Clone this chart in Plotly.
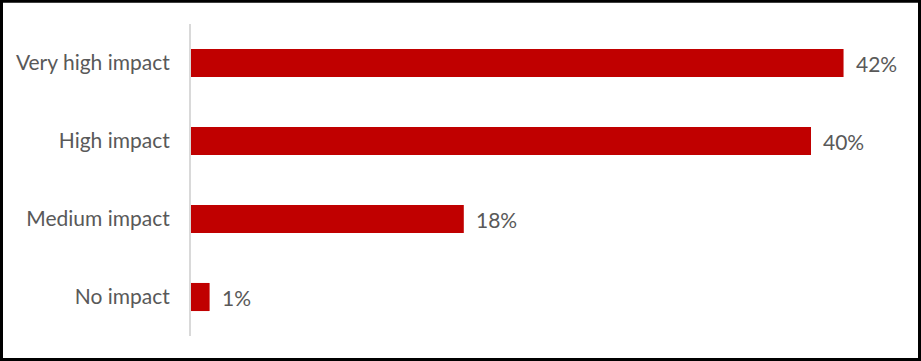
import plotly.graph_objects as go

categories = ["Very high impact", "High impact", "Medium impact", "No impact"]
values = [42.1, 40.0, 17.6, 1.2]
labels = ["42%", "40%", "18%", "1%"]

W, H = 921, 361
L, R, T, B = 191, 30, 24, 25
pw, ph = W - L - R, H - T - B
px_per_unit = 15.5

def px_x(p):
    return (p - L) / pw

def px_y(p):
    return (H - B - p) / ph

fig = go.Figure(go.Bar(
    x=values, y=categories, orientation="h",
    marker=dict(color="#C00000", line=dict(width=0)),
    width=0.36, hoverinfo="skip",
))

for v, c, t in zip(values, categories, labels):
    fig.add_annotation(x=v, y=c, text=t, showarrow=False, xanchor="left",
                       xshift=10, font=dict(family="Lato", size=21, color="#595959"))

fig.add_shape(type="rect", xref="paper", yref="paper",
              x0=px_x(1.5), x1=px_x(W - 1.5), y0=px_y(1.2), y1=px_y(H - 1.5),
              line=dict(color="black", width=3), layer="above")

fig.update_layout(
    width=W, height=H, margin=dict(l=L, r=R, t=T, b=B),
    paper_bgcolor="white", plot_bgcolor="white",
    showlegend=False,
    font=dict(family="Lato", size=21, color="#595959"),
    xaxis=dict(range=[0, pw / px_per_unit], visible=False, fixedrange=True),
    yaxis=dict(categoryorder="array", categoryarray=categories[::-1],
               showline=True, linecolor="#D9D9D9", linewidth=2,
               showgrid=False, zeroline=False, ticks="",
               ticklabelstandoff=15, fixedrange=True),
)

fig.write_html("out.html", config={"displayModeBar": False},
               post_script="document.body.style.margin='0';document.body.style.overflow='hidden';")
